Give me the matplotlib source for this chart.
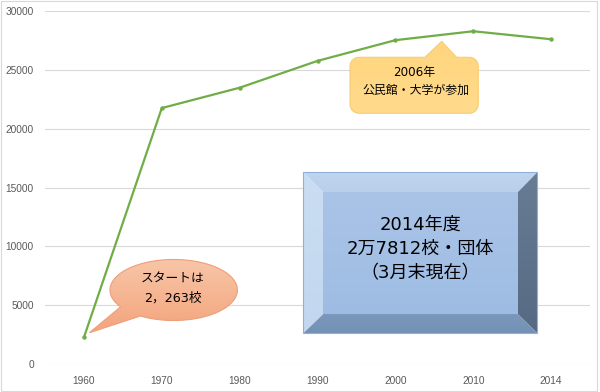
import numpy as np
import matplotlib
matplotlib.use("Agg")
import matplotlib.pyplot as plt
from matplotlib.patches import Polygon, Rectangle
from matplotlib.colors import LinearSegmentedColormap

# ---- data ----
years = ['1960', '1970', '1980', '1990', '2000', '2010', '2014']
counts = [2263, 21750, 23480, 25760, 27520, 28280, 27600]
yticks = [0, 5000, 10000, 15000, 20000, 25000, 30000]

bubble_text = ['スタートは', '2，263校']
callout_text = ['2006年', '公民館・大学が参加']
box_text = ['2014年度', '2万7812校・団体', '（3月末現在）']

JP = ['DejaVu Sans', 'Noto Sans CJK JP']

W, H = 600, 392
fig = plt.figure(figsize=(W / 100, H / 100), dpi=100)
fig.patch.set_facecolor('white')

# ---- main chart ----
ax = fig.add_axes([45 / W, (H - 364) / H, (590 - 45) / W, (364 - 11) / H])
ax.plot(years, counts, color='#70AD47', lw=1.6, marker='o', ms=3.2,
        markeredgewidth=0, zorder=3)
ax.set_xlim(-0.5, len(years) - 0.5)
ax.set_ylim(0, 30000)
ax.set_yticks(yticks)
ax.yaxis.grid(True, color='#D9D9D9', lw=0.8)
ax.set_axisbelow(True)
for s in ax.spines.values():
    s.set_visible(False)
ax.tick_params(length=0, labelsize=7.3, labelcolor='#595959')
ax.tick_params(axis='y', pad=8)
ax.tick_params(axis='x', pad=8.5)
for lab in ax.get_xticklabels() + ax.get_yticklabels():
    lab.set_fontfamily('Liberation Sans')

# ---- overlay in pixel coordinates ----
ov = fig.add_axes([0, 0, 1, 1], zorder=5)
ov.patch.set_alpha(0)
ov.axis('off')
ov.set_autoscale_on(False)
ov.set_xlim(0, W)
ov.set_ylim(H, 0)


def grad_fill(verts, top, bottom, edge='none', lw=0.8, z=6):
    verts = np.asarray(verts)
    poly = Polygon(verts, closed=True, facecolor='none', edgecolor=edge,
                   lw=lw, zorder=z + 0.5)
    ov.add_patch(poly)
    cmap = LinearSegmentedColormap.from_list('g', [top, bottom])
    grad = np.linspace(0, 1, 256)[:, None]
    im = ov.imshow(grad, cmap=cmap, aspect='auto', origin='upper',
                   extent=(verts[:, 0].min(), verts[:, 0].max(),
                           verts[:, 1].max(), verts[:, 1].min()),
                   zorder=z, interpolation='bilinear')
    im.set_clip_path(poly)
    return poly


# outer chart border
ov.add_patch(Rectangle((0.5, 1), 596, 389.5, fill=False, edgecolor='#D9D9D9',
                       lw=0.8, zorder=1))

# orange speech bubble (ellipse with tail)
cx, cy, rx, ry = 173.7, 290, 63.7, 30.5
t0, t1 = np.deg2rad(146.5), np.deg2rad(121.5) + 2 * np.pi
ts = np.linspace(t0, t1, 120)
pts = [(cx + rx * np.cos(t), cy + ry * np.sin(t)) for t in ts]
pts.append((89.5, 332.7))
grad_fill(pts, '#F8C6A8', '#F3A47C', edge='#EE9E78', lw=0.8)
for i, line in enumerate(bubble_text):
    ov.text(173, 279 + i * 18.8, line, ha='center', va='center',
            fontsize=9.2, family=JP, color='black', zorder=8)

# yellow callout (rounded rect with upward tail)
def rounded_rect(x0, y0, x1, y1, r, tail=None):
    out = []
    def arc(cxx, cyy, a0, a1):
        for a in np.linspace(np.deg2rad(a0), np.deg2rad(a1), 8):
            out.append((cxx + r * np.cos(a), cyy + r * np.sin(a)))
    arc(x0 + r, y0 + r, 180, 270)
    if tail:
        out.extend(tail)
    arc(x1 - r, y0 + r, 270, 360)
    arc(x1 - r, y1 - r, 0, 90)
    arc(x0 + r, y1 - r, 90, 180)
    return out

cpts = rounded_rect(350, 57.3, 478.3, 113.3, 9,
                    tail=[(425, 57.3), (441.7, 41.3), (456.5, 57.3)])
grad_fill(cpts, '#FFD57E', '#FFDB8C', edge='#F7CD72', lw=0.8)
ov.text(414, 72, callout_text[0], ha='center', va='center', fontsize=8.6,
        family=JP, color='black', zorder=8)
ov.text(416, 90.5, callout_text[1], ha='center', va='center', fontsize=8.6,
        family=JP, color='black', zorder=8)

# bevel box
ox0, oy0, ox1, oy1 = 303.3, 172.3, 537.3, 333.3
ix0, iy0, ix1, iy1 = 323.3, 192.3, 517.7, 314
z = 6
top = [(ox0, oy0), (ox1, oy0), (ix1, iy0), (ix0, iy0)]
left = [(ox0, oy0), (ix0, iy0), (ix0, iy1), (ox0, oy1)]
right = [(ox1, oy0), (ox1, oy1), (ix1, iy1), (ix1, iy0)]
bottom = [(ox0, oy1), (ix0, iy1), (ix1, iy1), (ox1, oy1)]
face = [(ix0, iy0), (ix1, iy0), (ix1, iy1), (ix0, iy1)]
grad_fill(top, '#BFD5EE', '#B9D0EB', z=z)
grad_fill(left, '#CADDF2', '#C2D7EF', z=z)
grad_fill(right, '#687C94', '#566A84', z=z)
grad_fill(bottom, '#7C98BC', '#7391B6', z=z)
grad_fill(face, '#AAC4E7', '#9EBCE3', z=z)
ov.add_patch(Rectangle((ox0, oy0), ox1 - ox0, oy1 - oy0, fill=False,
                       edgecolor='#8EB0DB', lw=0.8, zorder=7))
for i, line in enumerate(box_text):
    ov.text(420.3, 225 + i * 24.2, line, ha='center', va='center',
            fontsize=13, family=JP, color='black', zorder=8)

fig.savefig('out.png', dpi=100, facecolor='white')
